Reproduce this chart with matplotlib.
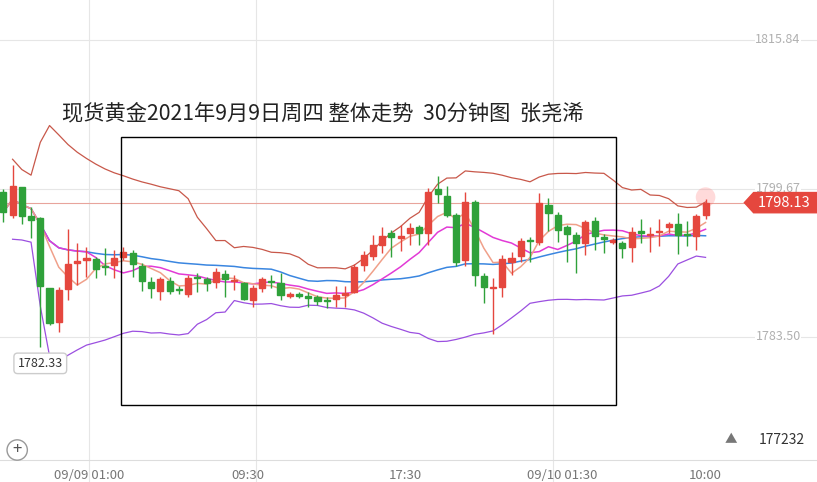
import numpy as np
import pandas as pd
import matplotlib
matplotlib.use("Agg")
import matplotlib.pyplot as plt
from matplotlib.patches import Rectangle, Polygon

plt.rcParams['font.family'] = ['Noto Sans CJK SC', 'DejaVu Sans']

opens = [1799.3,1796.8,1799.8,1796.7,1796.5,1788.8,1785.1,1788.7,1791.6,1791.9,
         1792.0,1791.2,1791.3,1792.2,1792.7,1791.2,1789.5,1788.5,1789.6,1788.7,
         1788.2,1790.0,1789.8,1789.5,1790.4,1789.6,1789.4,1787.5,1788.8,1789.6,
         1789.4,1788.0,1788.2,1788.0,1787.9,1787.5,1787.6,1788.1,1788.4,1791.3,
         1792.3,1793.5,1794.8,1794.3,1794.8,1795.5,1794.8,1799.6,1798.9,1796.8,
         1791.9,1798.2,1790.1,1788.8,1788.9,1791.7,1792.3,1794.0,1793.8,1797.9,
         1796.8,1795.5,1794.6,1793.7,1796.1,1794.3,1793.8,1793.7,1793.3,1795.0,
         1794.6,1794.9,1795.5,1795.8,1794.7,1794.5,1796.8]
closes = [1797.1,1799.9,1796.7,1796.2,1789.0,1785.0,1788.6,1791.4,1791.8,1792.1,
          1790.9,1791.1,1792.1,1792.8,1791.5,1789.6,1788.8,1789.8,1788.5,1788.6,
          1789.9,1789.9,1789.4,1790.6,1789.8,1789.7,1787.6,1788.8,1789.8,1789.5,
          1788.1,1788.2,1788.0,1787.7,1787.4,1787.4,1788.1,1788.2,1791.1,1792.4,
          1793.5,1794.5,1794.4,1794.5,1795.4,1794.8,1799.3,1799.1,1796.8,1791.7,
          1798.2,1790.3,1788.9,1788.9,1792.0,1792.1,1793.9,1793.9,1798.1,1797.0,
          1795.2,1794.7,1793.7,1796.0,1794.5,1794.2,1794.1,1793.2,1794.9,1794.8,
          1794.6,1795.0,1795.8,1794.6,1794.6,1796.7,1798.13]
highs = [1799.6,1802.2,1799.8,1797.7,1796.6,1788.8,1788.9,1795.3,1793.7,1793.3,
         1792.2,1793.2,1793.0,1793.3,1793.0,1791.6,1790.0,1790.0,1790.0,1789.1,
         1790.3,1790.5,1790.0,1791.0,1790.8,1790.3,1789.5,1789.2,1790.0,1790.3,
         1790.5,1788.4,1788.4,1788.4,1788.1,1787.9,1789.1,1789.0,1791.4,1792.9,
         1794.6,1795.5,1795.2,1795.7,1795.9,1795.7,1799.7,1801.0,1799.9,1797.0,
         1799.3,1798.4,1790.5,1789.9,1792.4,1792.8,1794.3,1794.4,1799.2,1798.6,
         1797.1,1795.7,1794.9,1796.2,1796.6,1794.7,1794.3,1794.0,1795.5,1796.3,
         1795.5,1796.3,1796.0,1797.0,1796.1,1796.9,1798.5]
lows = [1796.0,1796.5,1795.8,1794.3,1782.4,1784.8,1784.0,1787.5,1789.2,1790.0,
        1789.9,1790.2,1789.9,1791.9,1790.0,1788.5,1787.7,1787.5,1788.2,1788.2,
        1787.9,1788.4,1788.5,1788.8,1787.9,1788.6,1787.5,1786.8,1788.4,1788.8,
        1787.5,1787.7,1787.7,1786.8,1787.0,1786.7,1786.8,1786.8,1788.3,1790.7,
        1791.9,1792.6,1792.2,1792.9,1793.5,1793.5,1793.5,1798.1,1796.6,1791.2,
        1791.2,1789.1,1787.2,1783.8,1787.9,1790.2,1791.7,1791.7,1793.5,1795.0,
        1793.8,1791.7,1790.5,1792.4,1793.0,1792.6,1793.6,1792.1,1791.7,1793.7,
        1792.8,1793.4,1794.8,1792.5,1793.4,1793.0,1796.3]
price_ticks = [1815.84, 1799.67, 1783.50]
time_labels = ["09/09 01:00", "09:30", "17:30", "09/10 01:30", "10:00"]
time_pos = [9.3, 26.5, 43.5, 60.5, 76]
last_price = 1798.13
low_mark = 1782.33
title = "现货黄金2021年9月9日周四 整体走势  30分钟图  张尧浠"

o = np.array(opens); c = np.array(closes); h = np.array(highs); l = np.array(lows)
n = len(o); x = np.arange(n)

def px2p(y):  # figure pixel y -> price, for decoration placement only
    return 1815.84 - (y - 40) * (32.34 / 297)

fig = plt.figure(figsize=(8.17, 4.82), dpi=100)
ax = fig.add_axes([0, 0, 1, 1])
ax.set_xlim(-0.36, 88.06)
ax.set_ylim(px2p(482), px2p(0))
ax.axis('off')

for p in price_ticks:
    ax.axhline(p, color='#e6e6e6', lw=0.8, zorder=0)
    ax.text(86.3, p, f"{p:.2f}", color='#b0b0b0', fontsize=9, va='center', ha='right',
            bbox=dict(fc='white', ec='none', pad=0.5))
for t in [9.3, 27.3, 59.5]:
    ax.axvline(t, color='#e6e6e6', lw=0.8, zorder=0)

s = pd.Series(c)
ma5 = s.rolling(5, min_periods=1).mean()
ma10 = s.rolling(10, min_periods=1).mean()
ma30 = s.rolling(30, min_periods=1).mean()
ma20 = s.rolling(20, min_periods=1).mean()
sd = s.rolling(20, min_periods=1).std().fillna(0)
up = ma20 + 2.2 * sd
dn = ma20 - 2.2 * sd
ax.plot(x[1:], up[1:], color='#c8584a', lw=0.9, zorder=2)
ax.plot(x[1:], dn[1:], color='#9b4fe0', lw=0.9, zorder=2)
ax.plot(x, ma30, color='#3a86e0', lw=1.1, zorder=2)
ax.plot(x, ma10, color='#e23ad6', lw=1.1, zorder=2)
ax.plot(x, ma5, color='#f0a08a', lw=1.1, zorder=2)

red, green = '#e5473e', '#2fa13a'
for i in range(n):
    col = red if c[i] >= o[i] else green
    ax.vlines(i, l[i], h[i], color=col, lw=1, zorder=3)
    b0, b1 = min(o[i], c[i]), max(o[i], c[i])
    ax.add_patch(Rectangle((i - 0.33, b0), 0.66, max(b1 - b0, 0.15), color=col, zorder=4))

ax.axhline(last_price, color='#e8a49c', lw=0.8, zorder=1)
ax.scatter([n - 1], [last_price + 0.6], s=200, color='#ff6f6f', alpha=0.25, zorder=2, edgecolors='none')
tag = Polygon([[80.2, last_price], [81.2, last_price + 1.1], [88.1, last_price + 1.1],
               [88.1, last_price - 1.1], [81.2, last_price - 1.1]], closed=True,
              color='#e5473e', zorder=5)
ax.add_patch(tag)
ax.text(84.5, last_price, f"{last_price:.2f}", color='white', fontsize=10.5,
        va='center', ha='center', zorder=6)

ax.text(4.0, low_mark - 1.7, f"{low_mark:.2f}", fontsize=9, color='#333333', ha='center', va='center',
        bbox=dict(fc='white', ec='#cccccc', boxstyle='round,pad=0.3'), zorder=6)

ax.text(6.35, px2p(113), title, fontsize=15.3, color='#222222', va='center', ha='left', zorder=7)
ax.add_patch(Rectangle((12.75, px2p(405)), 53.6, px2p(137) - px2p(405), fill=False,
                       ec='black', lw=1, zorder=7))

ax.axhline(px2p(460), color='#dddddd', lw=0.8)
for lab, t in zip(time_labels, time_pos):
    ax.text(t, px2p(476), lab, fontsize=9.5, color='#777777', ha='center', va='center')
ax.text(1.5, px2p(450), "+", fontsize=12, color='#555555', ha='center', va='center',
        bbox=dict(boxstyle='circle,pad=0.1', fc='white', ec='#999999'))
ax.text(86.8, px2p(440), "177232", fontsize=10, color='#333333', ha='right', va='center')
ax.text(78.7, px2p(440), "▲", fontsize=9, color='#777777', ha='center', va='center')

fig.savefig("out.png", dpi=100)
